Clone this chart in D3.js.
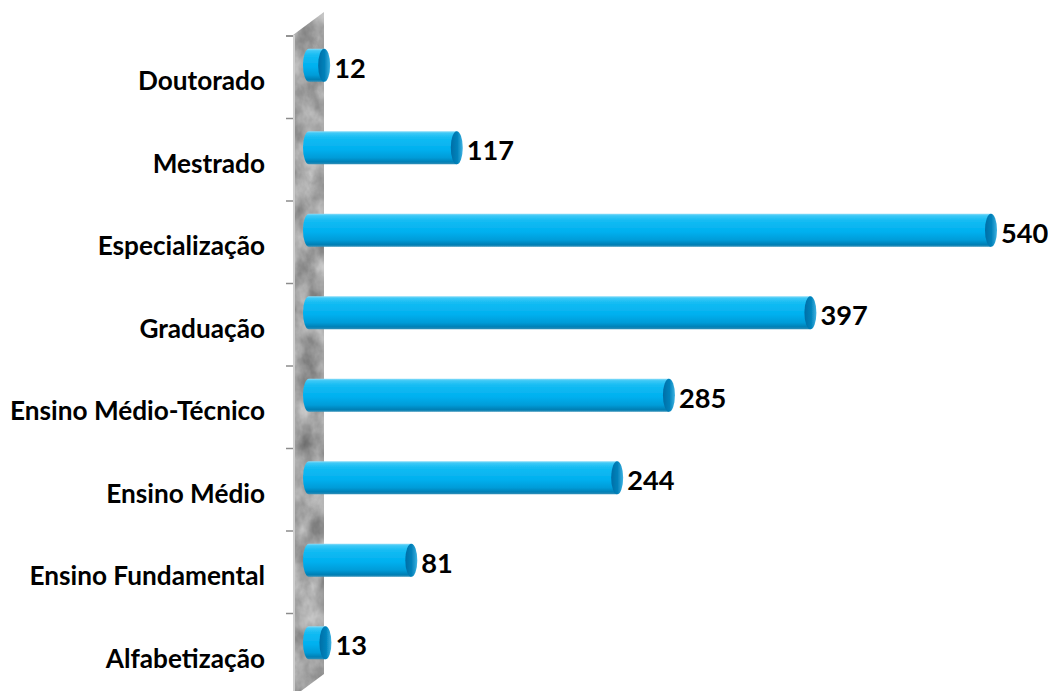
<!DOCTYPE html>
<html>
<head>
<meta charset="utf-8">
<script src="https://cdn.jsdelivr.net/npm/d3@7"></script>
<style>
  html, body { margin: 0; padding: 0; background: #ffffff; }
  svg { display: block; }
</style>
</head>
<body>
<svg id="chart" width="1048" height="691"></svg>
<script>
// Education levels, listed bottom to top
const categories = [
  "Alfabetização",
  "Ensino Fundamental",
  "Ensino Médio",
  "Ensino Médio-Técnico",
  "Graduação",
  "Especialização",
  "Mestrado",
  "Doutorado"
];
const values = [13, 81, 244, 285, 397, 540, 117, 12];
const valueLabels = ["13", "81", "244", "285", "397", "540", "117", "12"];

const svg = d3.select("#chart");
const defs = svg.append("defs");

// scales
const y = d3.scaleBand()
  .domain(categories.slice().reverse())
  .range([36, 696])
  .paddingInner(0)
  .paddingOuter(0);

const x = d3.scaleLinear()
  .domain([0, 540])
  .range([309, 991]);

const depthDx = 31, depthDy = -23;   // 3D offset of the back wall
const barH = 33, barShift = -12, capRx = 6;

// ---- gradients ----
const bodyGrad = defs.append("linearGradient")
  .attr("id", "barBody").attr("x1", 0).attr("y1", 0).attr("x2", 0).attr("y2", 1);
[
  [0, "#8adcf8"], [0.06, "#3cc8f6"], [0.2, "#14bcf3"], [0.55, "#00b0ef"],
  [0.8, "#009cd8"], [0.93, "#0080b6"], [1, "#2f8fb8"]
].forEach(([o, c]) => bodyGrad.append("stop").attr("offset", o).attr("stop-color", c));

const capGrad = defs.append("linearGradient")
  .attr("id", "barCap").attr("x1", 0).attr("y1", 0).attr("x2", 1).attr("y2", 0);
[
  [0, "#006ea6"], [0.55, "#0082bb"], [1, "#3fb3e2"]
].forEach(([o, c]) => capGrad.append("stop").attr("offset", o).attr("stop-color", c));

// marble texture for the back wall
const marble = defs.append("filter").attr("id", "marble")
  .attr("x", 0).attr("y", 0).attr("width", 1).attr("height", 1)
  .attr("color-interpolation-filters", "sRGB");
marble.append("feTurbulence")
  .attr("type", "fractalNoise").attr("baseFrequency", "0.05 0.035")
  .attr("numOctaves", 4).attr("seed", 7).attr("result", "noise");
marble.append("feColorMatrix")
  .attr("in", "noise").attr("type", "matrix")
  .attr("values",
    "0.45 0.15 0 0 0.34  0.45 0.15 0 0 0.34  0.45 0.15 0 0 0.34  0 0 0 0 1")
  .attr("result", "gray");
marble.append("feComposite")
  .attr("in", "gray").attr("in2", "SourceGraphic").attr("operator", "in");

// soft edge for the bars
const soft = defs.append("filter").attr("id", "soft")
  .attr("x", "-5%").attr("y", "-20%").attr("width", "110%").attr("height", "140%");
soft.append("feGaussianBlur").attr("stdDeviation", 0.6);

// ---- back wall ----
const wallLeft = x(0) - 16;
const wallTop = y.range()[0] - 1;
const wallBottom = y.range()[1] + 1;
const wallPts = [
  [wallLeft, wallTop],
  [wallLeft + depthDx, wallTop + depthDy],
  [wallLeft + depthDx, wallBottom + depthDy],
  [wallLeft, wallBottom]
];
svg.append("polygon")
  .attr("points", wallPts.map(p => p.join(",")).join(" "))
  .attr("fill", "#9e9e9e")
  .attr("filter", "url(#marble)");
svg.append("line")
  .attr("x1", wallLeft + 1).attr("x2", wallLeft + 1)
  .attr("y1", wallTop).attr("y2", wallBottom)
  .attr("stroke", "#cfcfcf").attr("stroke-width", 2);

// category ticks at band boundaries
const bounds = categories.map(c => y(c)).concat([y.range()[0]]);
svg.append("g").selectAll("line").data(bounds).join("line")
  .attr("x1", wallLeft - 7).attr("x2", wallLeft)
  .attr("y1", d => d).attr("y2", d => d)
  .attr("stroke", "#8c8c8c").attr("stroke-width", 1.5);

// ---- bars (cylinders) ----
const rows = categories.map((c, i) => ({ cat: c, v: values[i], label: valueLabels[i] }));
const bars = svg.append("g").selectAll("g").data(rows).join("g")
  .attr("filter", "url(#soft)");

bars.append("path")
  .attr("d", d => {
    const cy = y(d.cat) + y.bandwidth() / 2 + barShift;
    const ry = barH / 2;
    const x0 = x(0), x1 = x(d.v);
    return `M${x0},${cy - ry} L${x1},${cy - ry} L${x1},${cy + ry} L${x0},${cy + ry}` +
      ` A${capRx},${ry} 0 0 1 ${x0},${cy - ry} Z`;
  })
  .attr("fill", "url(#barBody)");

bars.append("ellipse")
  .attr("cx", d => x(d.v))
  .attr("cy", d => y(d.cat) + y.bandwidth() / 2 + barShift)
  .attr("rx", capRx).attr("ry", barH / 2)
  .attr("fill", "url(#barCap)");

// ---- text ----
const fontFamily = "Lato, 'Open Sans', 'DejaVu Sans', sans-serif";

// size the labels so the longest one spans the measured width
const probe = svg.append("text").attr("font-family", fontFamily)
  .attr("font-weight", 700).attr("font-size", 20).text("Ensino Médio-Técnico");
const probeW = probe.node().getComputedTextLength();
probe.remove();
const fontSize = 20 * 255 / probeW;

svg.append("g").selectAll("text").data(rows).join("text")
  .attr("x", 265)
  .attr("y", d => y(d.cat) + y.bandwidth() / 2 + 3)
  .attr("text-anchor", "end")
  .attr("dominant-baseline", "central")
  .attr("font-family", fontFamily).attr("font-weight", 700)
  .attr("font-size", fontSize).attr("fill", "#000")
  .text(d => d.cat);

svg.append("g").selectAll("text").data(rows).join("text")
  .attr("x", d => x(d.v) + capRx + 4)
  .attr("y", d => y(d.cat) + y.bandwidth() / 2 + barShift + 2)
  .attr("dominant-baseline", "central")
  .attr("font-family", fontFamily).attr("font-weight", 700)
  .attr("font-size", fontSize + 1).attr("fill", "#000")
  .text(d => d.label);
</script>
</body>
</html>
